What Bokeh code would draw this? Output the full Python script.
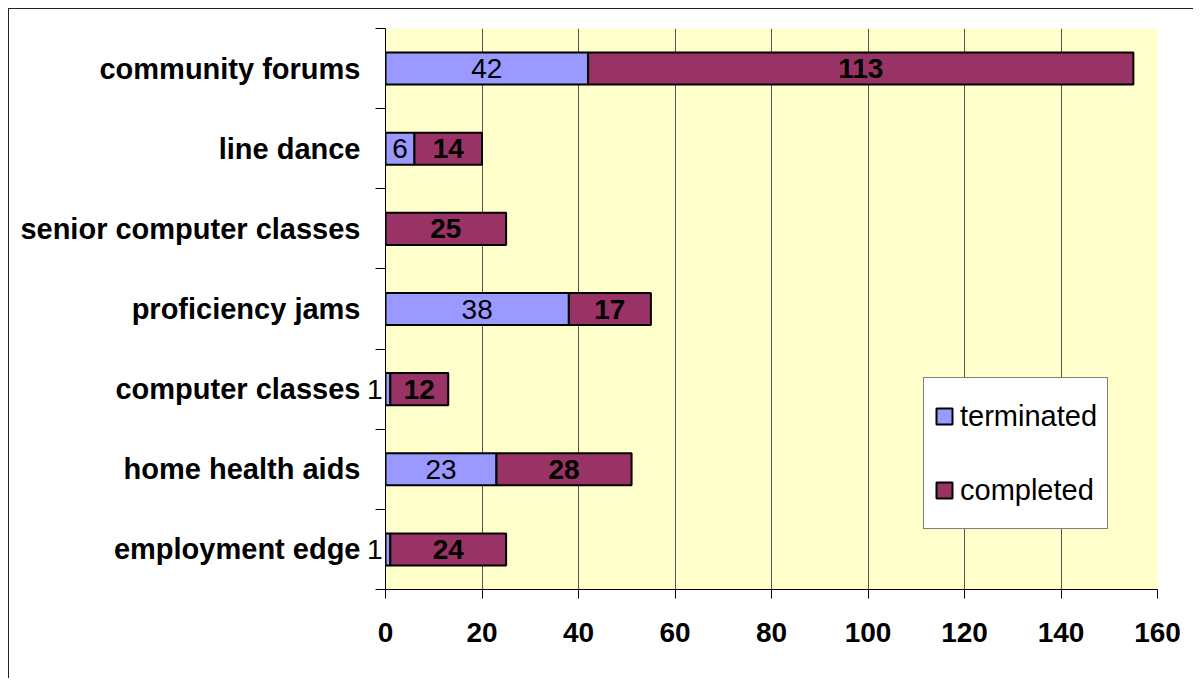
from bokeh.plotting import figure
from bokeh.models import Range1d, FixedTicker, ColumnDataSource, LabelSet, LinearAxis
from bokeh.core.properties import value
from bokeh.embed import file_html
from bokeh.resources import INLINE

categories = ["community forums", "line dance", "senior computer classes",
              "proficiency jams", "computer classes", "home health aids",
              "employment edge"]
terminated = [42, 6, 0, 38, 1, 23, 1]
completed = [113, 14, 25, 17, 12, 28, 24]
x_ticks = [0, 20, 40, 60, 80, 100, 120, 140, 160]

FONT = "Liberation Sans"
n = len(categories)
ypos = [n - i - 0.5 for i in range(n)]
totals = [a + b for a, b in zip(terminated, completed)]

p = figure(width=1193, height=678, output_backend="svg", toolbar_location=None,
           x_range=Range1d(x_ticks[0], x_ticks[-1]), y_range=Range1d(0, n),
           min_border_left=385, min_border_right=36, min_border_top=28,
           min_border_bottom=89)
p.styles = {"background": "linear-gradient(#222,#222) 8px 8px / 1px 100% no-repeat, "
                          "linear-gradient(#222,#222) 8px 8px / 100% 1px no-repeat, white"}
p.background_fill_color = "#FFFFCC"
p.border_fill_color = None
p.outline_line_color = None

src = ColumnDataSource(dict(y=ypos, t=terminated, c=completed, tc=totals,
                            cmid=[a + b / 2 for a, b in zip(terminated, completed)],
                            clab=[str(v) for v in completed]))

p.hbar(y="y", left=0, right="t", height=0.4, fill_color="#9999FF",
       line_color="black", line_width=2, source=src, legend_label="terminated")
p.hbar(y="y", left="t", right="tc", height=0.4, fill_color="#993366",
       line_color="black", line_width=2, source=src, legend_label="completed")

# terminated labels: inside when wide enough, else just left of the bar (outside the frame)
big = [i for i, v in enumerate(terminated) if v >= 3]
small = [i for i, v in enumerate(terminated) if 0 < v < 3]
src_big = ColumnDataSource(dict(x=[terminated[i] / 2 for i in big], y=[ypos[i] for i in big],
                                lab=[str(terminated[i]) for i in big]))
p.add_layout(LabelSet(x="x", y="y", text="lab", source=src_big, text_align="center",
                      text_baseline="middle", text_font=value(FONT),
                      text_font_size=value("28px"), text_color="black"))
p.add_layout(LabelSet(x="cmid", y="y", text="clab", source=src, text_align="center",
                      text_baseline="middle", text_font=value(FONT),
                      text_font_size=value("28px"), text_font_style="bold",
                      text_color="black"))

# x axis
p.xaxis.ticker = FixedTicker(ticks=x_ticks)
p.xaxis.major_tick_out = 9
p.xaxis.major_tick_in = 0
p.xaxis.minor_tick_out = 0
p.xaxis.minor_tick_in = 0
p.xaxis.major_label_text_font = FONT
p.xaxis.major_label_text_font_size = "28px"
p.xaxis.major_label_text_font_style = "bold"
p.xaxis.major_label_text_color = "black"
p.xaxis.major_label_standoff = 24
p.xaxis.axis_line_color = "black"
p.xaxis.major_tick_line_color = "black"

# inner y axis: axis line, boundary ticks, and small-bar value labels
ya = p.yaxis[0]
ya.ticker = FixedTicker(ticks=[ypos[i] for i in small], minor_ticks=list(range(n + 1)))
ya.major_label_overrides = {ypos[i]: str(terminated[i]) for i in small}
ya.major_tick_out = 0
ya.major_tick_in = 0
ya.minor_tick_out = 10
ya.minor_tick_in = 0
ya.minor_tick_line_color = "black"
ya.axis_line_color = "black"
ya.major_label_text_font = FONT
ya.major_label_text_font_size = "28px"
ya.major_label_text_color = "black"
ya.major_label_standoff = -7

# outer y axis: category names
yb = LinearAxis(ticker=FixedTicker(ticks=ypos),
                major_label_overrides={y: c for y, c in zip(ypos, categories)},
                major_tick_out=0, major_tick_in=0, minor_tick_out=0, minor_tick_in=0,
                axis_line_color=None, major_tick_line_color=None,
                minor_tick_line_color=None,
                major_label_text_font=FONT, major_label_text_font_size="29px",
                major_label_text_font_style="bold", major_label_text_color="black",
                major_label_standoff=3)
p.add_layout(yb, "left")

p.xgrid.ticker = FixedTicker(ticks=x_ticks[1:-1])
p.xgrid.grid_line_color = "#555555"
p.xgrid.grid_line_width = 1
p.ygrid.visible = False

lg = p.legend[0]
lg.location = (538, 60)
lg.label_text_font = FONT
lg.label_text_font_size = "29px"
lg.label_text_color = "black"
lg.glyph_width = 20
lg.glyph_height = 20
lg.label_height = 56
lg.label_standoff = 6
lg.padding = 10
lg.spacing = 18
lg.margin = 0
lg.border_line_color = "black"
lg.border_line_width = 1
lg.background_fill_color = "white"
lg.background_fill_alpha = 1

open("out.html", "w").write(file_html(p, INLINE))
